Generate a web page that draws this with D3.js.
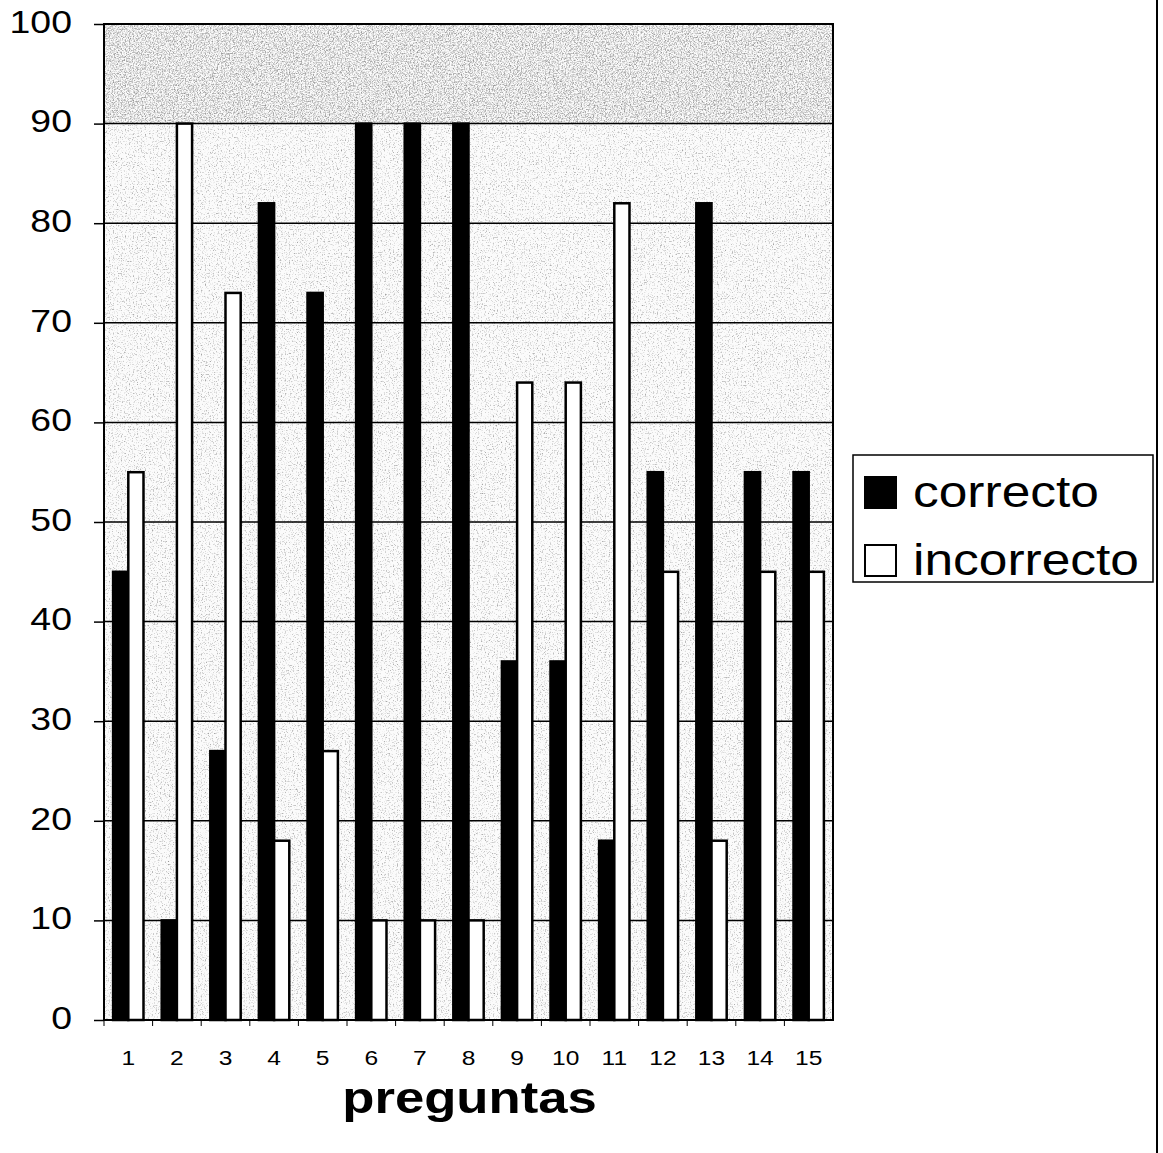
<!DOCTYPE html>
<html>
<head>
<meta charset="utf-8">
<script src="https://cdn.jsdelivr.net/npm/d3@7"></script>
<style>
  body { margin: 0; background: #fff; }
  text { font-family: "Liberation Sans", Arial, sans-serif; fill: #000; }
</style>
</head>
<body>
<div class="chart"></div>
<script>
// preguntas 1..15, porcentaje correcto / incorrecto
var preguntas = ["1","2","3","4","5","6","7","8","9","10","11","12","13","14","15"];
var correcto = [45, 10, 27, 82, 73, 90, 90, 90, 36, 36, 18, 55, 82, 55, 55];
var incorrecto = [55, 90, 73, 18, 27, 10, 10, 10, 64, 64, 82, 45, 18, 45, 45];
var series = ["correcto", "incorrecto"];
var yTicks = [0, 10, 20, 30, 40, 50, 60, 70, 80, 90, 100];

var W = 1163, H = 1153;
var margin = { top: 24, left: 104, right: 330, bottom: 133 };
var width = W - margin.left - margin.right,
    height = H - margin.top - margin.bottom;
var stretch = 1.17; // the scan is a bit wider than tall, text looks stretched

var svg = d3.select(".chart").append("svg")
    .attr("width", W)
    .attr("height", H);

// speckled scan texture for the plot background
var defs = svg.append("defs");
var f = defs.append("filter").attr("id", "speck")
    .attr("x", 0).attr("y", 0).attr("width", 1).attr("height", 1);
f.append("feTurbulence").attr("type", "fractalNoise")
    .attr("baseFrequency", "0.75").attr("numOctaves", 2).attr("seed", 4);
f.append("feColorMatrix").attr("type", "matrix")
    .attr("values", "0 0 0 0 0.3  0 0 0 0 0.3  0 0 0 0 0.3  2.6 0 0 0 -1.4");
var f2 = defs.append("filter").attr("id", "speck2")
    .attr("x", 0).attr("y", 0).attr("width", 1).attr("height", 1);
f2.append("feTurbulence").attr("type", "fractalNoise")
    .attr("baseFrequency", "0.75").attr("numOctaves", 2).attr("seed", 9);
f2.append("feColorMatrix").attr("type", "matrix")
    .attr("values", "0 0 0 0 0.3  0 0 0 0 0.3  0 0 0 0 0.3  2.6 0 0 0 -1.15");

var g = svg.append("g")
    .attr("transform", "translate(" + margin.left + "," + margin.top + ")");

var x0 = d3.scaleBand().domain(preguntas).range([0, width]).paddingInner(0).paddingOuter(0);
var barW = x0.bandwidth() / (series.length + 1.2);
var y = d3.scaleLinear().domain([0, 100]).range([height, 0]);
var color = d3.scaleOrdinal().domain(series).range(["#000", "#fff"]);

g.append("rect")
    .attr("width", width).attr("height", height)
    .attr("fill", "#fbfbfb");
g.append("rect")
    .attr("width", width).attr("height", height)
    .attr("filter", "url(#speck)");
g.append("rect")
    .attr("y", y(100)).attr("width", width).attr("height", y(90) - y(100))
    .attr("filter", "url(#speck2)");

// gridlines + y axis
var yAxis = d3.axisLeft(y).tickValues(yTicks).tickSize(10).tickPadding(0);
g.append("g")
    .attr("class", "y axis")
    .call(yAxis)
    .call(function(s) {
        s.select(".domain").remove();
        s.selectAll("line").attr("stroke", "#000").attr("stroke-width", 1.5);
        s.selectAll("text")
            .attr("x", 0)
            .attr("font-size", 32)
            .attr("dy", "0.26em")
            .attr("transform", "translate(-32,0) scale(" + stretch + ",1)");
    });
g.append("g")
    .selectAll("line")
    .data(yTicks)
    .enter().append("line")
    .attr("x1", 0).attr("x2", width)
    .attr("y1", function(d) { return y(d); })
    .attr("y2", function(d) { return y(d); })
    .attr("stroke", "#000").attr("stroke-width", 1.5);

// bars
var rows = preguntas.map(function(p, i) {
    return { p: p, values: [
        { name: "correcto", v: correcto[i] },
        { name: "incorrecto", v: incorrecto[i] }
    ] };
});
var grp = g.selectAll(".grp")
    .data(rows)
    .enter().append("g")
    .attr("class", "grp")
    .attr("transform", function(d) {
        return "translate(" + (x0(d.p) + x0.bandwidth() / 2 - barW) + ",0)";
    });
grp.selectAll("rect")
    .data(function(d) { return d.values; })
    .enter().append("rect")
    .attr("x", function(d, i) { return i * barW; })
    .attr("y", function(d) { return y(d.v); })
    .attr("width", barW)
    .attr("height", function(d) { return height - y(d.v); })
    .attr("fill", function(d) { return color(d.name); })
    .attr("stroke", "#000")
    .attr("stroke-width", 2.5);

// plot border
g.append("rect")
    .attr("width", width).attr("height", height)
    .attr("fill", "none").attr("stroke", "#000").attr("stroke-width", 2);

// x axis
var xAxis = d3.axisBottom(x0).tickSize(0).tickPadding(0);
g.append("g")
    .attr("transform", "translate(0," + height + ")")
    .call(xAxis)
    .call(function(s) {
        s.select(".domain").remove();
        s.selectAll("text")
            .attr("y", 0).attr("dy", 0)
            .attr("font-size", 21)
            .attr("transform", "translate(0,45) scale(" + stretch + ",1)");
    });
g.append("g")
    .selectAll("line")
    .data(preguntas)
    .enter().append("line")
    .attr("x1", function(d) { return x0(d); })
    .attr("x2", function(d) { return x0(d); })
    .attr("y1", height).attr("y2", height + 6)
    .attr("stroke", "#000").attr("stroke-width", 1);

g.append("text")
    .attr("text-anchor", "middle")
    .attr("font-size", 45)
    .attr("font-weight", "bold")
    .attr("transform", "translate(" + (width / 2 + 1) + "," + (height + 93) + ") scale(" + stretch + ",1)")
    .text("preguntas");

// legend
var lg = svg.append("g").attr("transform", "translate(853,455)");
lg.append("rect")
    .attr("width", 300).attr("height", 127)
    .attr("fill", "#fff").attr("stroke", "#000").attr("stroke-width", 1.5);
var item = lg.selectAll(".legend")
    .data(series)
    .enter().append("g")
    .attr("class", "legend")
    .attr("transform", function(d, i) { return "translate(12," + (22 + i * 68) + ")"; });
item.append("rect")
    .attr("width", 31).attr("height", 31)
    .attr("fill", color)
    .attr("stroke", "#000").attr("stroke-width", 2);
item.append("text")
    .attr("font-size", 44)
    .attr("transform", "translate(48,30) scale(" + stretch + ",1)")
    .text(function(d) { return d; });

// outer frame line on the right
svg.append("line")
    .attr("x1", 1157).attr("x2", 1157).attr("y1", 0).attr("y2", H)
    .attr("stroke", "#000").attr("stroke-width", 2);
</script>
</body>
</html>
